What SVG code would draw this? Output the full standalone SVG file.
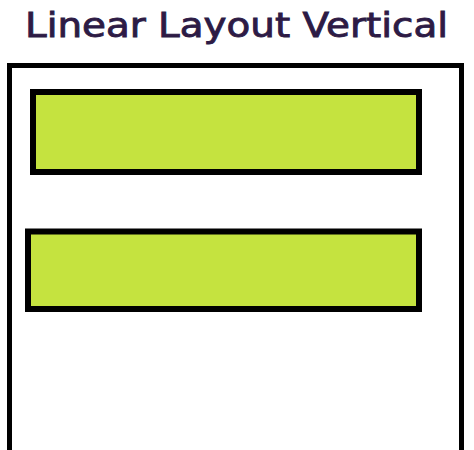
<svg xmlns="http://www.w3.org/2000/svg" width="474" height="450" viewBox="0 0 474 450">
<style>
.title{font-family:"DejaVu Sans","Liberation Sans",sans-serif;font-size:34px;fill:#2d1b45;stroke:#2d1b45;stroke-width:0.9}
.outer{fill:#fff;stroke:#000;stroke-width:5}
.child{fill:#c5e33f;stroke:#000;stroke-width:6}
</style>
<rect width="474" height="450" fill="#fff"/>
<text class="title" x="25" y="37" textLength="423" lengthAdjust="spacingAndGlyphs">Linear Layout Vertical</text>
<g id="container"><rect class="outer" x="9.5" y="65.5" width="452" height="400"/></g>
<g id="child1"><rect class="child" x="33" y="92" width="386" height="80"/></g>
<g id="child2"><rect class="child" x="28" y="231.5" width="391" height="77.5"/></g>
<g id="connectors"></g>
</svg>
